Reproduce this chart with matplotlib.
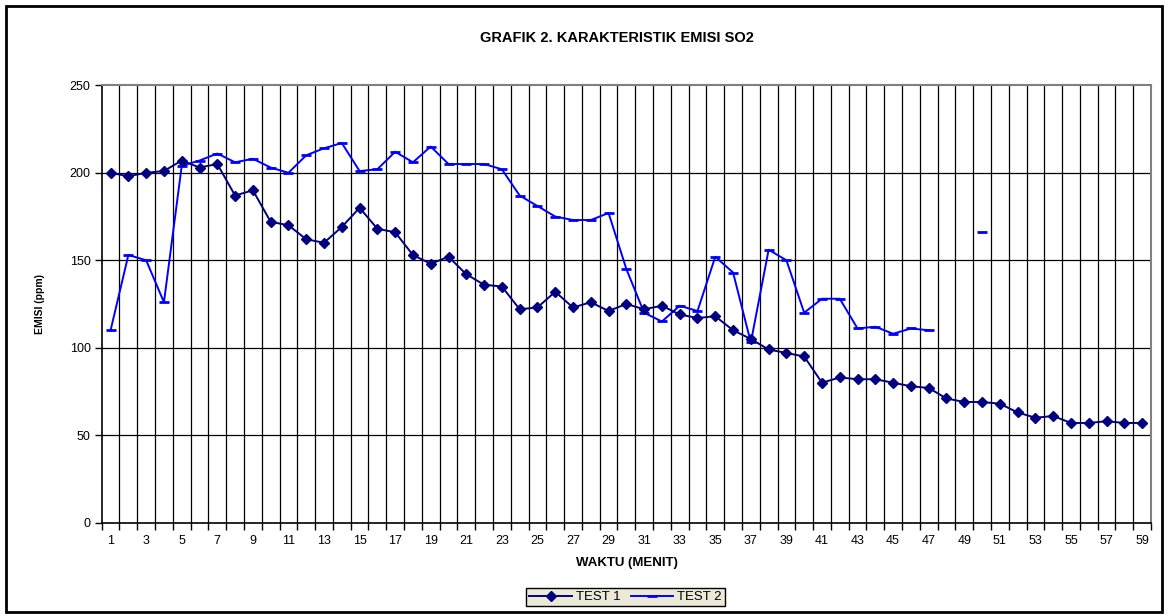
import matplotlib
matplotlib.use("Agg")
import matplotlib.pyplot as plt
import numpy as np
from matplotlib.patches import Rectangle

plt.rcParams['font.family'] = ['Liberation Sans', 'DejaVu Sans']

minutes = list(range(1, 60))
test1 = [200, 198, 200, 201, 207, 203, 205, 187, 190, 172,
         170, 162, 160, 169, 180, 168, 166, 153, 148, 152,
         142, 136, 135, 122, 123, 132, 123, 126, 121, 125,
         122, 124, 119, 117, 118, 110, 105, 99, 97, 95,
         80, 83, 82, 82, 80, 78, 77, 71, 69, 69,
         68, 63, 60, 61, 57, 57, 58, 57, 57]
test2 = [110, 153, 150, 126, 204, 207, 211, 206, 208, 203,
         200, 210, 214, 217, 201, 202, 212, 206, 215, 205,
         205, 205, 202, 187, 181, 175, 173, 173, 177, 145,
         120, 115, 124, 121, 152, 143, 103, 156, 150, 120,
         128, 128, 111, 112, 108, 111, 110, None, None, 166,
         None, None, None, None, None, None, None, None, None]
yticks = [0, 50, 100, 150, 200, 250]

W, H = 1168, 615
fig = plt.figure(figsize=(W / 100, H / 100), dpi=100)

# outer chart border
fig.patches.append(Rectangle((6 / W, 1 - 612 / H), (1162 - 6) / W, (612 - 6) / H,
                             transform=fig.transFigure, fill=False,
                             edgecolor='black', linewidth=2.0, zorder=0))

ax = fig.add_axes([101.7 / W, 1 - 522.7 / H, (1151 - 101.7) / W, (522.7 - 85.3) / H])

x = np.arange(1, len(minutes) + 1)
t2 = np.array([np.nan if v is None else v for v in test2], dtype=float)

ax.plot(x, test1, color='#000080', linewidth=1.4, marker='D', markersize=5,
        markeredgecolor='#000080', markerfacecolor='#000080', label='TEST 1', zorder=4)
ax.plot(x, t2, color='#0000FF', linewidth=1.4, marker='_', markersize=7,
        markeredgewidth=2, label='TEST 2', zorder=3)

ax.set_xlim(0.5, len(minutes) + 0.5)
ax.set_ylim(0, 250)

# vertical gridlines at category boundaries
for b in np.arange(1.5, len(minutes) + 0.5, 1.0):
    ax.axvline(b, color='black', linewidth=0.9, zorder=1)
for v in yticks[1:-1]:
    ax.axhline(v, color='black', linewidth=0.9, zorder=1)

ax.set_yticks(yticks)
ax.set_yticklabels([str(v) for v in yticks], fontsize=9)
ax.set_xticks(x[::2])
ax.set_xticklabels([str(m) for m in minutes[::2]], fontsize=9)
ax.tick_params(axis='x', length=0, pad=9)
ax.tick_params(axis='y', length=5, width=1, direction='out', pad=3)
ax.set_xticks(np.arange(0.5, len(minutes) + 1.0, 1.0), minor=True)
ax.tick_params(axis='x', which='minor', length=5, width=1, direction='out')

for side in ['top', 'right']:
    ax.spines[side].set_color('#808080')
    ax.spines[side].set_linewidth(1.5)
ax.spines['left'].set_color('black')
ax.spines['bottom'].set_color('black')
ax.spines['left'].set_linewidth(1.2)
ax.spines['bottom'].set_linewidth(1.2)

fig.text(616.5 / W, 1 - 38.5 / H, 'GRAFIK 2. KARAKTERISTIK EMISI SO2', ha='center',
         va='center', fontsize=10.5, fontweight='bold')
fig.text(627 / W, 1 - 563 / H, 'WAKTU (MENIT)', ha='center', va='center',
         fontsize=9.5, fontweight='bold')
fig.text(40 / W, 1 - 304 / H, 'EMISI (ppm)', ha='center', va='center',
         rotation=90, fontsize=7.5, fontweight='bold')

leg = fig.legend(loc='center', bbox_to_anchor=(625.5 / W, 1 - 597 / H), ncol=2,
                 fontsize=9.5, frameon=True, fancybox=False, handlelength=3.2,
                 handletextpad=0.3, columnspacing=0.8, borderpad=0.25)
leg.get_frame().set_facecolor('#ECE9D8')
leg.get_frame().set_edgecolor('black')
leg.get_frame().set_linewidth(1.0)
leg.get_frame().set_alpha(1)

fig.savefig('out.png', dpi=100)
